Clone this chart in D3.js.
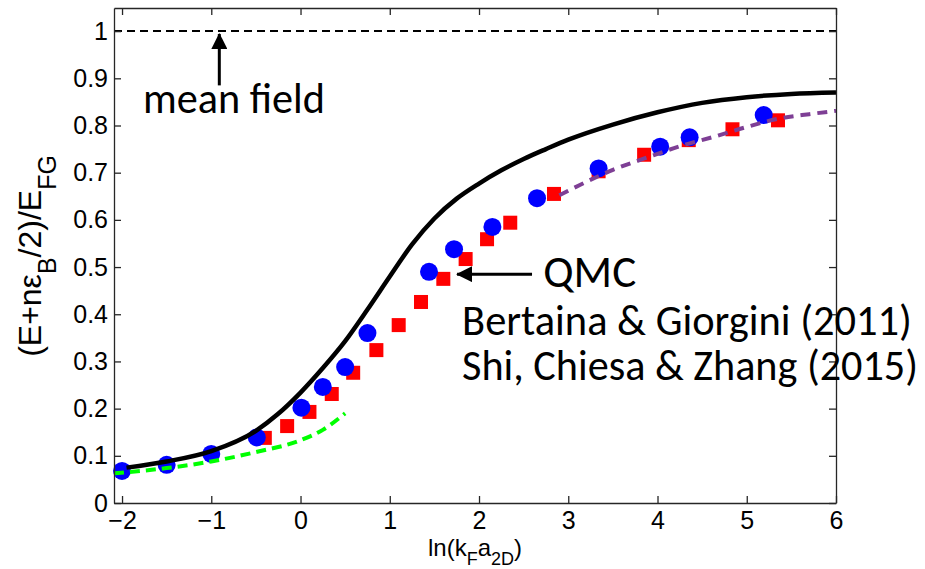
<!DOCTYPE html>
<html>
<head>
<meta charset="utf-8">
<script src="https://cdn.jsdelivr.net/npm/d3@7"></script>
<style>
  html, body { margin: 0; padding: 0; background: #fff; }
  svg { display: block; }
</style>
</head>
<body>
<svg id="chart" width="925" height="569"></svg>
<script>
// ---------------- data ----------------
const xTicks = [-2, -1, 0, 1, 2, 3, 4, 5, 6];
const yTicks = [0, 0.1, 0.2, 0.3, 0.4, 0.5, 0.6, 0.7, 0.8, 0.9, 1];
const yTickLabels = ["0", "0.1", "0.2", "0.3", "0.4", "0.5", "0.6", "0.7", "0.8", "0.9", "1"];

// Bertaina & Giorgini (2011) - blue circles
const blueX = [-2.00, -1.50, -1.00, -0.49, 0.01, 0.25, 0.50, 0.75, 1.44, 1.72, 2.15, 2.65, 3.34, 4.03, 4.36, 5.19];
const blueY = [0.068, 0.081, 0.104, 0.139, 0.202, 0.246, 0.288, 0.360, 0.490, 0.538, 0.585, 0.646, 0.709, 0.755, 0.775, 0.822];

// Shi, Chiesa & Zhang (2015) - red squares
const redX = [-0.40, -0.15, 0.10, 0.35, 0.59, 0.85, 1.10, 1.35, 1.60, 1.85, 2.09, 2.35, 2.84, 3.34, 3.85, 4.35, 4.84, 5.35];
const redY = [0.138, 0.163, 0.193, 0.231, 0.276, 0.324, 0.377, 0.426, 0.475, 0.517, 0.559, 0.594, 0.655, 0.703, 0.738, 0.769, 0.792, 0.811];

// black solid theory curve
const blackX = [-1.95, -1.5, -1.0, -0.5, -0.25, 0.0, 0.25, 0.5, 0.75, 1.0, 1.25, 1.5, 1.75, 2.0, 2.25, 2.5, 2.75, 3.0, 3.5, 4.0, 4.5, 5.0, 5.5, 6.0];
const blackY = [0.075, 0.088, 0.110, 0.153, 0.189, 0.234, 0.286, 0.343, 0.410, 0.480, 0.548, 0.603, 0.645, 0.677, 0.705, 0.729, 0.750, 0.770, 0.802, 0.828, 0.848, 0.860, 0.867, 0.870];

// green dashed (BEC limit)
const greenX = [-2.09, -1.5, -1.0, -0.5, 0.0, 0.25, 0.5];
const greenY = [0.063, 0.074, 0.088, 0.108, 0.133, 0.155, 0.190];

// purple dashed (BCS limit)
const purpleX = [2.9, 3.13, 3.5, 3.88, 4.25, 4.63, 5.0, 5.37, 5.7, 6.0];
const purpleY = [0.652, 0.674, 0.706, 0.732, 0.756, 0.776, 0.797, 0.815, 0.824, 0.831];

// mean field line
const meanFieldX = [-2.09, 6];
const meanFieldY = [1, 1];

// annotations (data coordinates)
const annotations = [
  { text: "mean field", x: -1.765, y: 0.826, width: 182 },
  { text: "QMC", x: 2.72, y: 0.458, width: 93 },
  { text: "Bertaina & Giorgini (2011)", x: 1.81, y: 0.356, width: 450 },
  { text: "Shi, Chiesa & Zhang (2015)", x: 1.81, y: 0.261, width: 456 }
];
const arrows = [
  { x1: -0.91, y1: 0.885, x2: -0.91, y2: 0.994 },
  { x1: 2.594, y1: 0.485, x2: 1.754, y2: 0.485 }
];

// ---------------- chart ----------------
const svg = d3.select("#chart");
const L = 114, R = 836, T = 8, B = 503;
const x = d3.scaleLinear().domain([-2.09, 6]).range([L, R]);
const y = d3.scaleLinear().domain([0, 1.049]).range([B, T]);

const axisFont = "'Liberation Sans', Arial, Helvetica, sans-serif";
const annFont = "Carlito, Lato, 'Open Sans', sans-serif";

svg.append("defs").append("marker")
  .attr("id", "arrowhead")
  .attr("markerUnits", "userSpaceOnUse")
  .attr("viewBox", "0 0 16 16")
  .attr("refX", 15).attr("refY", 8)
  .attr("markerWidth", 16).attr("markerHeight", 16)
  .attr("orient", "auto")
  .append("path").attr("d", "M0,0 L16,8 L0,16 Z").attr("fill", "#000");

// markers
const blue = blueX.map((v, i) => ({ x: v, y: blueY[i] }));
const red = redX.map((v, i) => ({ x: v, y: redY[i] }));
const sq = 14;
svg.append("g").selectAll("rect").data(red).join("rect")
  .attr("x", d => x(d.x) - sq / 2).attr("y", d => y(d.y) - sq / 2)
  .attr("width", sq).attr("height", sq).attr("fill", "#ff0000");
svg.append("g").selectAll("circle").data(blue).join("circle")
  .attr("cx", d => x(d.x)).attr("cy", d => y(d.y)).attr("r", 9)
  .attr("fill", "#0000ff");

// lines
const line = d3.line().x(d => x(d[0])).y(d => y(d[1])).curve(d3.curveMonotoneX);
const zip = (a, b) => a.map((v, i) => [v, b[i]]);
svg.append("path").attr("d", line(zip(blackX, blackY)))
  .attr("fill", "none").attr("stroke", "#000").attr("stroke-width", 4.5);
svg.append("path").attr("d", line(zip(greenX, greenY)))
  .attr("fill", "none").attr("stroke", "#00ff00").attr("stroke-width", 4)
  .attr("stroke-dasharray", "10,6");
svg.append("path").attr("d", line(zip(purpleX, purpleY)))
  .attr("fill", "none").attr("stroke", "#7e3f95").attr("stroke-width", 4)
  .attr("stroke-dasharray", "10,7");
svg.append("path").attr("d", d3.line().x(d => x(d[0])).y(d => y(d[1]))(zip(meanFieldX, meanFieldY)))
  .attr("fill", "none").attr("stroke", "#000").attr("stroke-width", 2)
  .attr("stroke-dasharray", "8,5");

// axes
const axCol = "#262626";
function styleAxis(g, noLabels) {
  g.select(".domain").attr("stroke", axCol).attr("stroke-width", 1.3);
  g.selectAll(".tick line").attr("stroke", axCol).attr("stroke-width", 1.3);
  g.selectAll(".tick text").attr("fill", "#000").style("font-family", axisFont).style("font-size", "25px");
  if (noLabels) g.selectAll(".tick text").remove();
}
svg.append("g").attr("transform", `translate(0,${B})`)
  .call(d3.axisBottom(x).tickValues(xTicks).tickSizeInner(-7).tickSizeOuter(0).tickPadding(8)
    .tickFormat(d3.format("")))
  .call(g => styleAxis(g, false));
svg.append("g").attr("transform", `translate(0,${T})`)
  .call(d3.axisTop(x).tickValues(xTicks).tickSizeInner(-7).tickSizeOuter(0))
  .call(g => styleAxis(g, true));
svg.append("g").attr("transform", `translate(${L},0)`)
  .call(d3.axisLeft(y).tickValues(yTicks).tickSizeInner(-7).tickSizeOuter(0).tickPadding(6)
    .tickFormat((d, i) => yTickLabels[i]))
  .call(g => styleAxis(g, false));
svg.append("g").attr("transform", `translate(${R},0)`)
  .call(d3.axisRight(y).tickValues(yTicks).tickSizeInner(-7).tickSizeOuter(0))
  .call(g => styleAxis(g, true));

// axis labels
const xl = svg.append("text").attr("x", (L + R) / 2).attr("y", 556)
  .attr("text-anchor", "middle").style("font-family", axisFont).style("font-size", "24px").attr("fill", "#000");
xl.append("tspan").text("ln(k");
xl.append("tspan").attr("dy", 9).style("font-size", "18px").text("F");
xl.append("tspan").attr("dy", -9).text("a");
xl.append("tspan").attr("dy", 9).style("font-size", "18px").text("2D");
xl.append("tspan").attr("dy", -9).text(")");

const yl = svg.append("text").attr("transform", "translate(41,256) rotate(-90)")
  .attr("text-anchor", "middle").style("font-family", axisFont).style("font-size", "32px").attr("fill", "#000");
yl.append("tspan").text("(E+nε");
yl.append("tspan").attr("dy", 15).style("font-size", "25px").text("B");
yl.append("tspan").attr("dy", -15).text("/2)/E");
yl.append("tspan").attr("dy", 15).style("font-size", "25px").text("FG");

// annotations
annotations.forEach(a => {
  const t = svg.append("text").attr("x", x(a.x)).attr("y", y(a.y))
    .style("font-family", annFont).style("font-size", "36px").attr("fill", "#000").text(a.text);
  const w = t.node().getComputedTextLength();
  t.style("font-size", (36 * a.width / w).toFixed(2) + "px");
});
arrows.forEach(a => {
  svg.append("line").attr("x1", x(a.x1)).attr("y1", y(a.y1)).attr("x2", x(a.x2)).attr("y2", y(a.y2))
    .attr("stroke", "#000").attr("stroke-width", 3).attr("marker-end", "url(#arrowhead)");
});
</script>
</body>
</html>
